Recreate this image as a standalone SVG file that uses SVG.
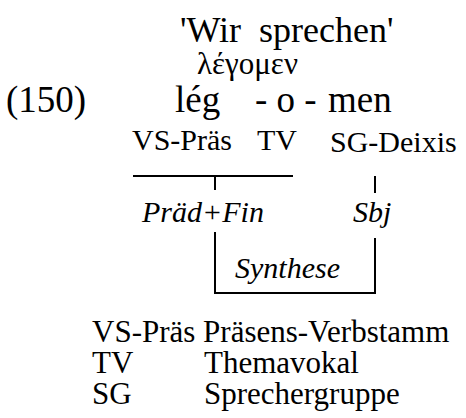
<svg xmlns="http://www.w3.org/2000/svg" width="466" height="418" viewBox="0 0 466 418" font-family="'Liberation Serif', 'Times New Roman', 'DejaVu Serif', serif">
<style>
text{font-family:'Liberation Serif','Times New Roman','DejaVu Serif',serif;fill:#000}
.big{font-size:36px}
.row{font-size:37px}
.mid{font-size:30px}
.gr{font-size:31px}
.leg{font-size:31px}
.scr{font-style:italic;font-size:30px}
.ln{stroke:#000;stroke-width:2;fill:none}
</style>
<rect width="466" height="418" fill="#fff"/>
<g id="title"><text class="big" x="180" y="42" xml:space="preserve">'Wir  sprechen'</text></g>
<g id="greek"><text class="gr" x="197" y="74">λέγομεν</text></g>
<g id="num"><text class="row" x="6" y="112">(150)</text></g>
<g id="leg"><text class="row" x="175" y="112">lég</text></g>
<g id="o"><text class="row" x="255" y="112" xml:space="preserve">- o -</text></g>
<g id="men"><text class="row" x="328" y="112">men</text></g>
<g id="vs"><text class="mid" x="132" y="150">VS-Präs</text></g>
<g id="tv"><text class="mid" x="257" y="150">TV</text></g>
<g id="sg"><text class="mid" x="330" y="152">SG-Deixis</text></g>
<g id="praedfin"><text class="scr" x="142" y="222">Präd+Fin</text></g>
<g id="sbj"><text class="scr" x="353" y="222">Sbj</text></g>
<g id="synthese"><text class="scr" x="235" y="278">Synthese</text></g>
<g id="connectors">
<path class="ln" d="M133 176H293M215 176V190M215 232V293H375V238M375 176V193"/>
</g>
<g id="legend">
<text class="leg" x="92" y="342">VS-Präs Präsens-Verbstamm</text>
<text class="leg" x="92" y="373">TV</text><text class="leg" x="204" y="373">Themavokal</text>
<text class="leg" x="92" y="404">SG</text><text class="leg" x="204" y="404">Sprechergruppe</text>
</g>
</svg>
